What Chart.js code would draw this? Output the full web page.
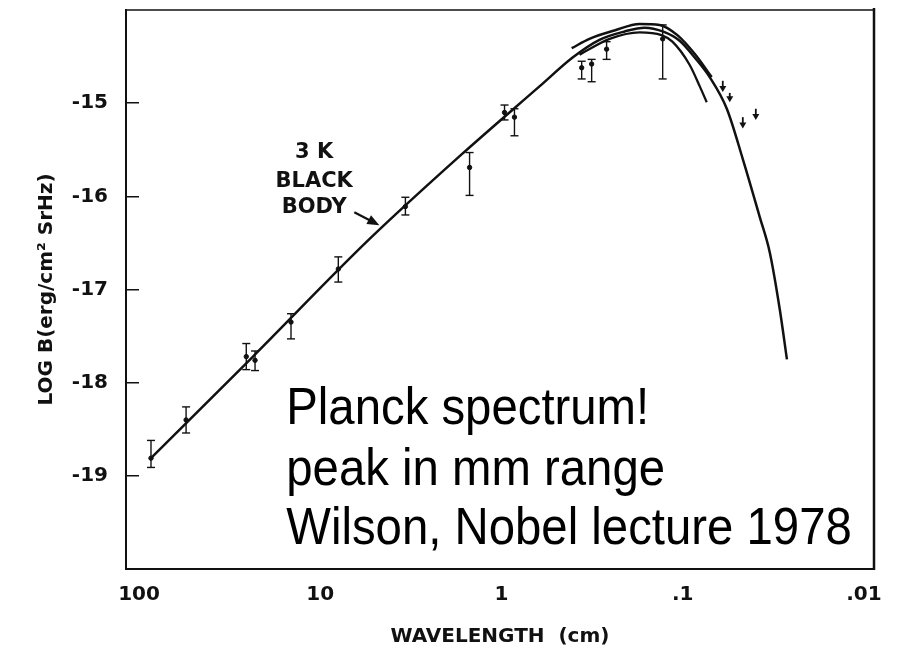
<!DOCTYPE html>
<html lang="en">
<head>
<meta charset="UTF-8">
<title>Planck spectrum - Wilson 1978</title>
<script src="https://cdn.jsdelivr.net/npm/chart.js"></script>
<style>
  html, body { margin: 0; padding: 0; background: #fff; }
  #wrap { width: 901px; height: 649px; }
</style>
</head>
<body>
<div id="wrap"><canvas id="myChart"></canvas></div>
<script>
// wavelength in cm, LOG B
// 3 K black body curve
const bbLambda = [85.9, 23.8, 5.36, 1.66, 0.617, 0.405, 0.288, 0.209, 0.162, 0.129, 0.104, 0.0859, 0.0710, 0.0571, 0.0466, 0.0376, 0.0331, 0.0291, 0.0266];
const bbLogB   = [-18.81, -17.73, -16.46, -15.55, -14.82, -14.51, -14.32, -14.23, -14.19, -14.23, -14.33, -14.51, -14.72, -15.06, -15.60, -16.22, -16.60, -17.22, -17.75];

// upper arc of the measured band
const arcLambda = [0.410, 0.327, 0.238, 0.173, 0.134, 0.107, 0.0859, 0.0692];
const arcLogB   = [-14.41, -14.31, -14.22, -14.15, -14.16, -14.27, -14.47, -14.72];

// shorter inner curve
const innerLambda = [0.371, 0.253, 0.173, 0.131, 0.114, 0.0915, 0.0805, 0.0737];
const innerLogB   = [-14.48, -14.31, -14.24, -14.27, -14.34, -14.59, -14.82, -14.99];

// measurements with error bars
const errLambda = [85.9, 55.0, 25.6, 22.9, 14.5, 7.95, 3.39, 1.50, 0.962, 0.848, 0.361, 0.318, 0.263, 0.129];
const errMid    = [-18.81, -18.40, -17.72, -17.76, -17.35, -16.78, -16.11, -15.69, -15.10, -15.15, -14.62, -14.58, -14.42, -14.31];
const errHigh   = [-18.62, -18.26, -17.58, -17.66, -17.26, -16.65, -16.01, -15.53, -15.02, -15.06, -14.55, -14.53, -14.34, -14.16];
const errLow    = [-18.91, -18.54, -17.86, -17.87, -17.53, -16.92, -16.20, -15.99, -15.18, -15.35, -14.74, -14.77, -14.53, -14.74];

// upper limits (arrows)
const limLambda = [0.0601, 0.0550, 0.0466, 0.0395];
const limTop    = [-14.76, -14.89, -15.15, -15.06];
const limTip    = [-14.87, -14.98, -15.26, -15.17];

const xTicks = [100, 10, 1, 0.1, 0.01];
const xTickLabels = ['100', '10', '1', '.1', '.01'];
const yTicks = [-19, -18, -17, -16, -15];

const ink = '#111';
const boldFont = { family: 'DejaVu Sans', weight: 'bold', size: 20 };

function pts(lx, ly) {
    return lx.map((l, i) => ({ x: l, y: ly[i] }));
}

function seg(ctx, x1, y1, x2, y2) {
    ctx.beginPath();
    ctx.moveTo(x1, y1);
    ctx.lineTo(x2, y2);
    ctx.stroke();
}

// frame, error bars, arrows and notes
const extras = {
    id: 'extras',
    afterDatasetsDraw(chart) {
        const { ctx, chartArea: a } = chart;
        const x = chart.scales.x, y = chart.scales.y;
        ctx.save();
        ctx.strokeStyle = ink;
        ctx.fillStyle = ink;

        // box round the plot
        ctx.lineWidth = 2;
        seg(ctx, a.left, a.top - 1, a.left, a.bottom + 1);
        seg(ctx, a.left, a.bottom, a.right, a.bottom);
        ctx.lineWidth = 1.5;
        seg(ctx, a.left, a.top, a.right, a.top);
        ctx.lineWidth = 2.5;
        seg(ctx, a.right, a.top - 2, a.right, a.bottom + 1);

        // error bars
        ctx.lineWidth = 1.4;
        errLambda.forEach((l, i) => {
            const px = x.getPixelForValue(l);
            const p1 = y.getPixelForValue(errHigh[i]);
            const p2 = y.getPixelForValue(errLow[i]);
            seg(ctx, px, p1, px, p2);
            seg(ctx, px - 4, p1, px + 4, p1);
            seg(ctx, px - 4, p2, px + 4, p2);
        });

        // upper limit arrows
        limLambda.forEach((l, i) => {
            const px = x.getPixelForValue(l);
            const p1 = y.getPixelForValue(limTop[i]);
            const p2 = y.getPixelForValue(limTip[i]);
            ctx.lineWidth = 1.8;
            seg(ctx, px, p1, px, p2 - 4);
            ctx.beginPath();
            ctx.moveTo(px - 3.5, p2 - 5);
            ctx.lineTo(px + 3.5, p2 - 5);
            ctx.lineTo(px, p2 + 1);
            ctx.closePath();
            ctx.fill();
        });

        // "3 K BLACK BODY" label with arrow
        ctx.font = 'bold 21px "DejaVu Sans"';
        ctx.textAlign = 'center';
        ctx.textBaseline = 'middle';
        const lx = x.getPixelForValue(10.8);
        const ly = y.getPixelForValue(-15.53);
        ctx.fillText('3 K', lx, ly);
        ctx.fillText('BLACK', lx, ly + 29);
        ctx.fillText('BODY', lx, ly + 55);

        const ax1 = x.getPixelForValue(6.49), ay1 = y.getPixelForValue(-16.17);
        const ax2 = x.getPixelForValue(4.72), ay2 = y.getPixelForValue(-16.31);
        const ang = Math.atan2(ay2 - ay1, ax2 - ax1);
        ctx.lineWidth = 2.2;
        seg(ctx, ax1, ay1, ax2 - 6 * Math.cos(ang), ay2 - 6 * Math.sin(ang));
        ctx.beginPath();
        ctx.moveTo(ax2, ay2);
        ctx.lineTo(ax2 - 12 * Math.cos(ang) + 5 * Math.sin(ang), ay2 - 12 * Math.sin(ang) - 5 * Math.cos(ang));
        ctx.lineTo(ax2 - 12 * Math.cos(ang) - 5 * Math.sin(ang), ay2 - 12 * Math.sin(ang) + 5 * Math.cos(ang));
        ctx.closePath();
        ctx.fill();

        // big note
        const tx = x.getPixelForValue(15.4);
        const ty = y.getPixelForValue(-18.44);
        ctx.fillStyle = '#000';
        ctx.font = '52px "Liberation Sans"';
        ctx.textAlign = 'left';
        ctx.textBaseline = 'alphabetic';
        ctx.translate(tx, ty);
        ctx.scale(0.91, 1);
        ctx.fillText('Planck spectrum!', 0, 0);
        ctx.fillText('peak in mm range', 0, 61);
        ctx.fillText('Wilson, Nobel lecture 1978', 0, 120);
        ctx.restore();
    }
};

const chart = new Chart(document.getElementById('myChart'), {
    type: 'scatter',
    data: {
        datasets: [
            {
                label: '3 K black body',
                data: pts(bbLambda, bbLogB),
                showLine: true,
                borderColor: ink,
                borderWidth: 2.5,
                pointRadius: 0,
                cubicInterpolationMode: 'monotone'
            },
            {
                label: 'band upper',
                data: pts(arcLambda, arcLogB),
                showLine: true,
                borderColor: ink,
                borderWidth: 2.5,
                pointRadius: 0,
                cubicInterpolationMode: 'monotone'
            },
            {
                label: 'inner curve',
                data: pts(innerLambda, innerLogB),
                showLine: true,
                borderColor: ink,
                borderWidth: 2.3,
                pointRadius: 0,
                cubicInterpolationMode: 'monotone'
            },
            {
                label: 'measurements',
                data: pts(errLambda, errMid),
                showLine: false,
                backgroundColor: ink,
                borderColor: ink,
                pointRadius: 2.2
            }
        ]
    },
    options: {
        responsive: true,
        maintainAspectRatio: false,
        animation: false,
        layout: { padding: { top: 10, right: 27, left: 0, bottom: 0 } },
        plugins: {
            legend: { display: false },
            tooltip: { enabled: false }
        },
        scales: {
            x: {
                type: 'logarithmic',
                reverse: true,
                min: 0.0088,
                max: 118,
                afterBuildTicks: s => { s.ticks = xTicks.map(v => ({ value: v })); },
                afterFit: s => { s.height = 80; s.paddingLeft = 0; s.paddingRight = 0; },
                grid: { display: false, drawTicks: false },
                border: { display: false },
                ticks: {
                    color: ink,
                    font: boldFont,
                    padding: 14,
                    maxRotation: 0,
                    autoSkip: false,
                    callback: (v, i) => xTickLabels[i]
                },
                title: {
                    display: true,
                    text: 'WAVELENGTH  (cm)',
                    color: ink,
                    font: boldFont,
                    padding: { top: 0, bottom: 0 }
                }
            },
            y: {
                min: -20,
                max: -14,
                afterBuildTicks: s => { s.ticks = yTicks.map(v => ({ value: v })); },
                afterFit: s => { s.width = 126; s.paddingTop = 0; s.paddingBottom = 0; },
                grid: {
                    drawOnChartArea: false,
                    drawTicks: true,
                    tickLength: -13,
                    color: ink,
                    lineWidth: 1.5
                },
                border: { display: false },
                ticks: {
                    color: ink,
                    font: boldFont,
                    padding: 31,
                    callback: v => String(v)
                },
                title: {
                    display: true,
                    text: 'LOG B(erg/cm\u00B2 SrHz)',
                    color: ink,
                    font: boldFont,
                    padding: { top: 35, bottom: 0 }
                }
            }
        }
    },
    plugins: [extras]
});
</script>
</body>
</html>
